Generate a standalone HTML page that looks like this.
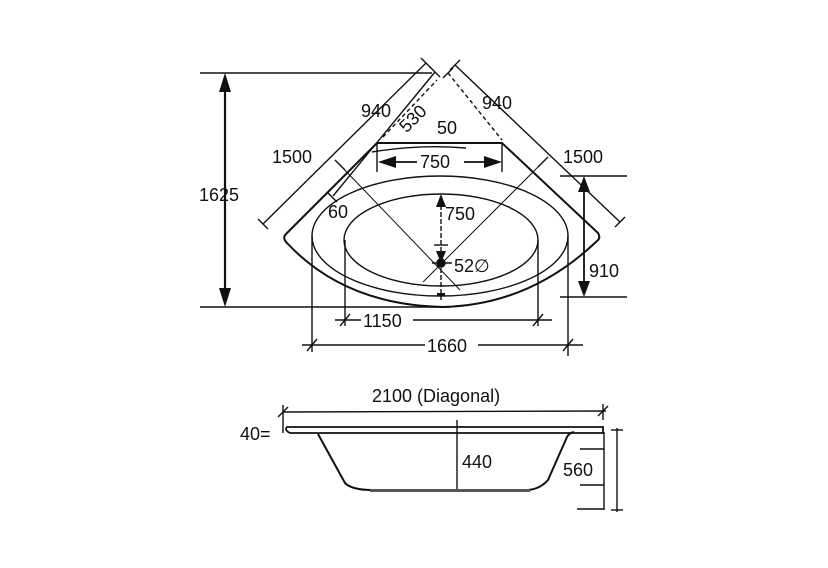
<!DOCTYPE html>
<html><head><style>
html,body{margin:0;padding:0;background:#fff;}
svg{display:block;}
text{font-family:"Liberation Sans",sans-serif;fill:#111;}
</style></head><body>
<svg width="828" height="568" viewBox="0 0 828 568" xmlns="http://www.w3.org/2000/svg">
<g stroke="#111" fill="none" stroke-width="1.4">
<line x1="200" y1="73" x2="432" y2="73"/>
<line x1="200" y1="307" x2="450" y2="307"/>
<line x1="225" y1="90" x2="225" y2="290" stroke-width="2.2"/>
<path d="M377,143 L502,143 L598,233 Q601,238 597,241 Q530,305 443,307 Q345,305 287,243 Q282,238 286,234 Z" stroke-width="2"/>
<ellipse cx="440" cy="236" rx="128" ry="60"/>
<ellipse cx="441" cy="240" rx="97" ry="46"/>
<line x1="312" y1="236" x2="312" y2="352"/>
<line x1="568" y1="236" x2="568" y2="356"/>
<line x1="345" y1="240" x2="345" y2="326"/>
<line x1="538" y1="240" x2="538" y2="326"/>
<line x1="335" y1="320" x2="361" y2="320"/><line x1="413" y1="320" x2="552" y2="320"/>
<line x1="340" y1="326" x2="350" y2="314"/><line x1="533" y1="326" x2="543" y2="314"/>
<line x1="302" y1="345" x2="425" y2="345"/><line x1="478" y1="345" x2="583" y2="345"/>
<line x1="307" y1="351" x2="317" y2="339"/><line x1="563" y1="351" x2="573" y2="339"/>
<line x1="560" y1="176" x2="627" y2="176"/>
<line x1="560" y1="297" x2="627" y2="297"/>
<line x1="584" y1="190" x2="584" y2="282" stroke-width="1.8"/>
<line x1="263" y1="224" x2="426" y2="63"/>
<line x1="258" y1="219" x2="268" y2="229"/><line x1="421" y1="58" x2="431" y2="68"/>
<line x1="333" y1="196" x2="435" y2="72"/>
<line x1="327" y1="192" x2="337" y2="202"/><line x1="430" y1="67" x2="440" y2="77"/>
<line x1="383" y1="137" x2="437" y2="80" stroke-dasharray="4,3"/>
<line x1="455" y1="65" x2="620" y2="222"/>
<line x1="450" y1="70" x2="460" y2="60"/><line x1="615" y1="227" x2="625" y2="217"/>
<line x1="448" y1="73" x2="502" y2="140" stroke-dasharray="4,3"/>
<line x1="443" y1="78" x2="453" y2="68"/>
<line x1="340" y1="165" x2="460" y2="290" stroke-width="1"/>
<line x1="543" y1="162" x2="423" y2="282" stroke-width="1"/>
<line x1="335" y1="160" x2="345" y2="170"/><line x1="538" y1="167" x2="548" y2="157"/>
<line x1="377" y1="143" x2="377" y2="172"/><line x1="502" y1="143" x2="502" y2="172"/>
<line x1="395" y1="162" x2="417" y2="162" stroke-width="1.8"/>
<line x1="464" y1="162" x2="485" y2="162" stroke-width="1.8"/>
<path d="M372,152 Q420,144 466,148"/>
<line x1="441" y1="205" x2="441" y2="300" stroke-dasharray="5,2"/>
<line x1="434" y1="245" x2="448" y2="245"/>
<circle cx="441" cy="263" r="4" fill="#111"/>
<line x1="432" y1="263" x2="452" y2="263"/>
</g>
<g fill="#111">
<polygon points="225,73 219,92 231,92"/><polygon points="225,307 219,288 231,288"/>
<polygon points="584,176 578,192 590,192"/><polygon points="584,297 578,281 590,281"/>
<polygon points="378,162 396,156 396,168"/><polygon points="502,162 484,156 484,168"/>
<polygon points="441,194 436,207 446,207"/>
<polygon points="441,263 436,251 446,251"/>
<rect x="437" y="293" width="8" height="3"/>
</g>
<g font-size="18">
<text x="199" y="201">1625</text>
<text x="272" y="163">1500</text>
<text x="563" y="163">1500</text>
<text x="361" y="117">940</text>
<text x="482" y="109">940</text>
<text x="396" y="128" transform="rotate(-45 408 118)">530</text>
<text x="437" y="134">50</text>
<text x="420" y="168">750</text>
<text x="445" y="220">750</text>
<text x="328" y="218">60</text>
<text x="454" y="272">52∅</text>
<text x="589" y="277">910</text>
<text x="363" y="327">1150</text>
<text x="427" y="352">1660</text>
<text x="372" y="402">2100 (Diagonal)</text>
<text x="240" y="440">40=</text>
<text x="462" y="468">440</text>
<text x="563" y="476">560</text>
</g>
<g stroke="#111" fill="none" stroke-width="1.4">
<line x1="283" y1="412" x2="606" y2="411"/>
<line x1="283" y1="405" x2="283" y2="433"/><line x1="278" y1="417" x2="288" y2="407"/>
<line x1="603" y1="404" x2="603" y2="420"/><line x1="598" y1="416" x2="608" y2="406"/>
<path d="M287,427 L603,427 L603,433 L290,433 Q284,430 287,427 Z" stroke-width="1.8"/>
<path d="M318,434 L345,483 Q352,490 372,490 L528,490 Q540,489 548,480 L567,437 Q569,433 574,432" stroke-width="2"/>
<line x1="457" y1="420" x2="457" y2="492"/>
<line x1="604" y1="432" x2="604" y2="510"/>
<line x1="580" y1="449" x2="604" y2="449"/>
<line x1="580" y1="485" x2="604" y2="485"/>
<line x1="577" y1="509" x2="604" y2="509"/>
<line x1="617" y1="428" x2="617" y2="512"/>
<line x1="611" y1="430" x2="623" y2="430"/><line x1="611" y1="510" x2="623" y2="510"/>
</g>
<rect x="370" y="489" width="160" height="3" fill="#555"/>
</svg>
</body></html>
